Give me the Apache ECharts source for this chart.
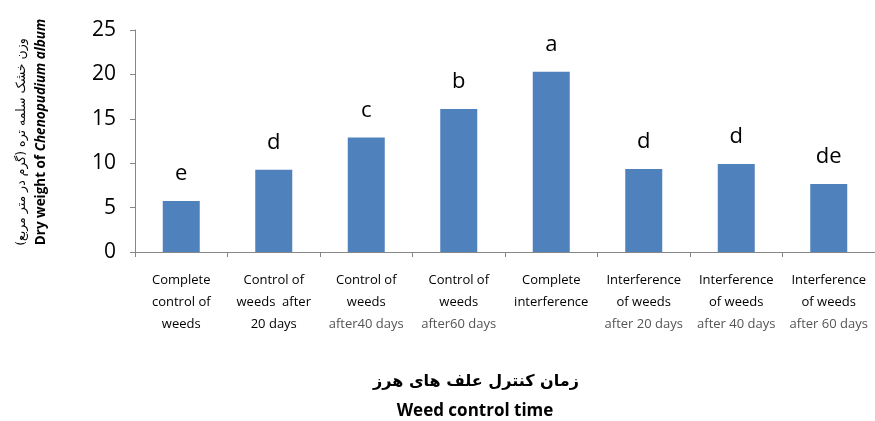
<!DOCTYPE html>
<html><head><meta charset="utf-8">
<script src="https://cdn.jsdelivr.net/npm/echarts@6/dist/echarts.min.js"></script>
<style>html,body{margin:0;padding:0;background:#fff}#c{width:875px;height:421px}</style>
</head><body><div id="c"></div>
<script>
const categories = [
  'Complete\ncontrol of\nweeds',
  'Control of\nweeds  after\n20 days',
  'Control of\nweeds\n{g|after40 days}',
  'Control of\nweeds\n{g|after60 days}',
  'Complete\ninterference',
  'Interference\nof weeds\n{g|after 20 days}',
  'Interference\nof weeds\n{g|after 40 days}',
  'Interference\nof weeds\n{g|after 60 days}'
];
const dryWeight = [5.75, 9.25, 12.9, 16.1, 20.3, 9.35, 9.9, 7.65];
const letters = ['e', 'd', 'c', 'b', 'a', 'd', 'd', 'de'];
const yTicks = {min: 0, max: 25, interval: 5};

const chart = echarts.init(document.getElementById('c'));
chart.setOption({
  animation: false,
  grid: {left: 135, right: -6, top: 30, bottom: 169},
  xAxis: {
    type: 'category', data: categories,
    axisLine: {lineStyle: {color: '#868686', width: 1}},
    axisTick: {show: true, length: 5, lineStyle: {color: '#868686'}},
    axisLabel: {
      interval: 0, fontFamily: 'Open Sans', fontSize: 13, color: '#000',
      lineHeight: 22, margin: 17,
      rich: {g: {fontFamily: 'Open Sans', fontSize: 13, color: '#555', lineHeight: 22}}
    }
  },
  yAxis: {
    type: 'value', min: yTicks.min, max: yTicks.max, interval: yTicks.interval,
    axisLine: {show: true, lineStyle: {color: '#868686', width: 1}},
    axisTick: {show: true, length: 5, lineStyle: {color: '#868686'}},
    splitLine: {show: false},
    axisLabel: {fontFamily: 'Open Sans', fontSize: 21, color: '#000', margin: 19}
  },
  series: [{
    type: 'bar', data: dryWeight, barWidth: 37,
    itemStyle: {color: '#4F81BD'},
    label: {
      show: true, position: 'top', distance: 16,
      fontFamily: 'Open Sans', fontSize: 22, color: '#000',
      formatter: p => letters[p.dataIndex]
    }
  }],
  graphic: [
    {type: 'text', x: 476, y: 382, style: {text: 'زمان کنترل علف های هرز', align: 'center', verticalAlign: 'middle', font: 'bold 16px "DejaVu Sans"', fill: '#000'}},
    {type: 'text', x: 475, y: 411, style: {text: 'Weed control time', align: 'center', verticalAlign: 'middle', font: 'bold 17px "Open Sans"', fill: '#000'}},
    {type: 'text', x: 41, y: 132, rotation: Math.PI / 2, style: {
      text: '{b|Dry weight of }{bi|Chenopudium album}', align: 'center', verticalAlign: 'middle',
      rich: {
        b: {fontFamily: 'Open Sans', fontWeight: 'bold', fontSize: 13.5, fill: '#000'},
        bi: {fontFamily: 'Open Sans', fontWeight: 'bold', fontStyle: 'italic', fontSize: 13.5, fill: '#000'}
      }
    }},
    {type: 'text', x: 22, y: 142, rotation: Math.PI / 2, style: {
      text: 'وزن خشک سلمه تره (گرم در متر مربع)', align: 'center', verticalAlign: 'middle',
      font: '12.5px "DejaVu Sans"', fill: '#000'
    }}
  ]
});
</script></body></html>
